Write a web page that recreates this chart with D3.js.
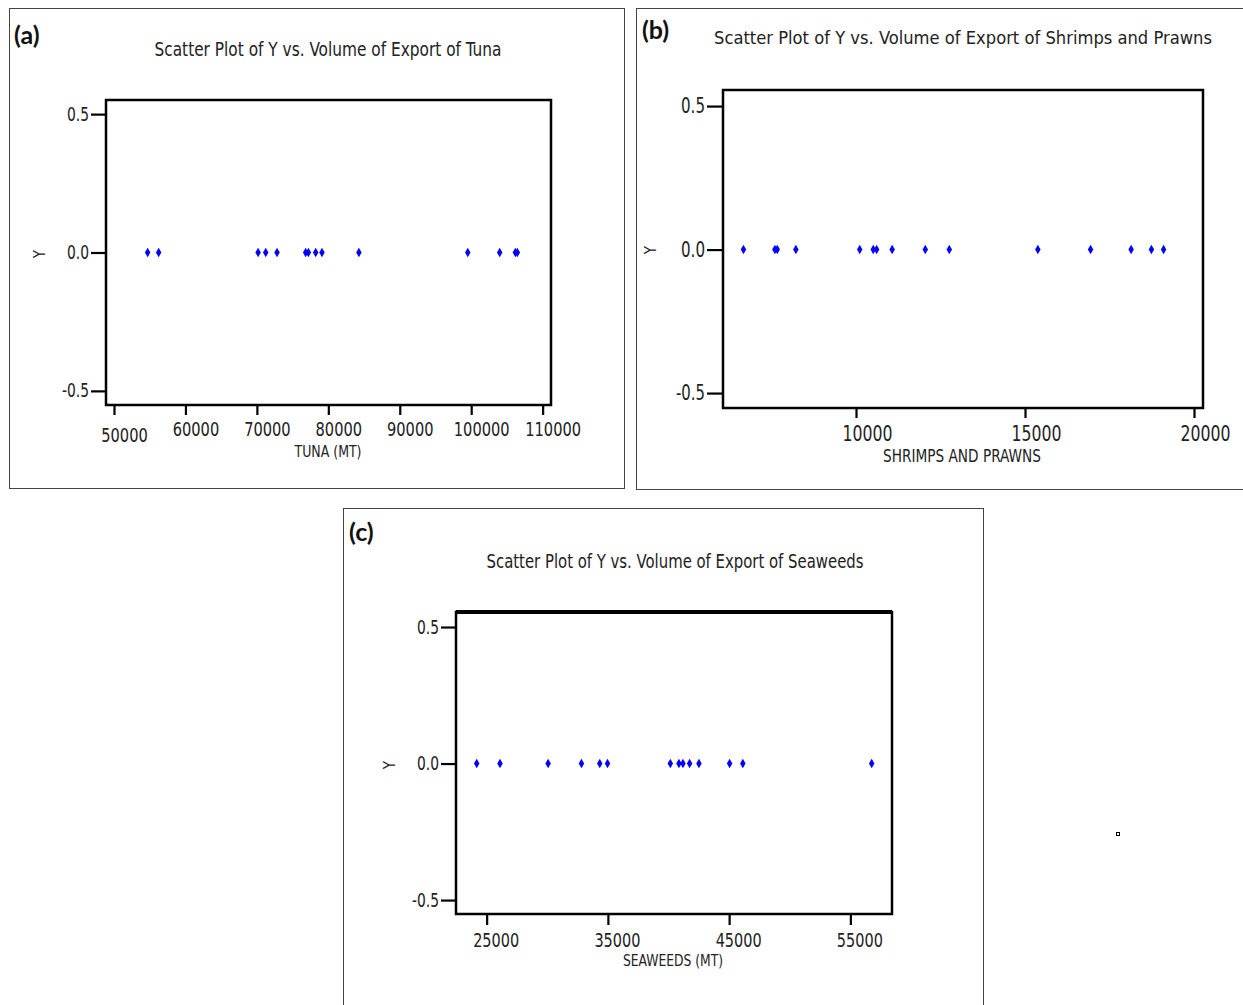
<!DOCTYPE html>
<html><head><meta charset="utf-8">
<script src="https://cdn.jsdelivr.net/npm/d3@7"></script>
<style>body{margin:0;background:#fff} svg{display:block}</style>
</head><body><svg id="c" width="1243" height="1005"></svg>
<script>
// ---- data ----
const tunaX = [54710, 56250, 70170, 71240, 72820, 76830, 77210, 78230, 79110, 84280, 99520, 103990, 106180, 106460];
const tunaY = [0, 0, 0, 0, 0, 0, 0, 0, 0, 0, 0, 0, 0, 0];
const shrimpX = [6670, 7600, 7670, 8220, 10110, 10510, 10610, 11070, 12050, 12760, 15380, 16940, 18140, 18740, 19100];
const shrimpY = [0, 0, 0, 0, 0, 0, 0, 0, 0, 0, 0, 0, 0, 0, 0];
const seaweedX = [24180, 26100, 30070, 32820, 34330, 34970, 40150, 40860, 41190, 41740, 42510, 45040, 46130, 56760];
const seaweedY = [0, 0, 0, 0, 0, 0, 0, 0, 0, 0, 0, 0, 0, 0];
const tunaTicks = [50000, 60000, 70000, 80000, 90000, 100000, 110000];
const shrimpTicks = [10000, 15000, 20000];
const seaweedTicks = [25000, 35000, 45000, 55000];
const yTicks = [-0.5, 0.0, 0.5];
const panelLabels = ["(a)", "(b)", "(c)"];
const titles = [
  "Scatter Plot of Y vs. Volume of Export of Tuna",
  "Scatter Plot of Y vs. Volume of Export of Shrimps and Prawns",
  "Scatter Plot of Y vs. Volume of Export of Seaweeds"
];
const xTitles = ["TUNA (MT)", "SHRIMPS AND PRAWNS", "SEAWEEDS (MT)"];
const yTitle = "Y";

// ---- drawing ----
const NARROW = "'Liberation Sans Narrow','Arial Narrow','DejaVu Sans Condensed',sans-serif";
const svg = d3.select("#c");

function squeeze(sel, w) {
  sel.attr("textLength", w).attr("lengthAdjust", "spacingAndGlyphs");
}

function panel(o) {
  const g = svg.append("g");
  g.append("rect").attr("x", o.ox).attr("y", o.oy).attr("width", o.ow).attr("height", o.oh)
    .attr("fill", "none").attr("stroke", "#444").attr("stroke-width", 1);
  g.append("text").attr("x", o.lx).attr("y", o.ly).text(o.label)
    .attr("font-family", "Lato, 'Open Sans', sans-serif").attr("font-weight", "bold")
    .attr("font-size", o.lfs).attr("fill", "#111");
  g.append("text").attr("x", o.tx).attr("y", o.ty).attr("text-anchor", "middle").text(o.title)
    .attr("font-family", NARROW).attr("font-size", o.tfs).attr("fill", "#222").call(squeeze, o.tw);

  const x = d3.scaleLinear().domain(o.xDomain).range([o.left, o.right]);
  const y = d3.scaleLinear().domain(o.yDomain).range([o.bottom, o.top]);

  const xa = g.append("g").attr("transform", `translate(0,${o.bottom})`)
    .call(d3.axisBottom(x).tickValues(o.xTicks).tickSize(o.xtl).tickPadding(o.xpad).tickFormat(d3.format("d")));
  xa.select(".domain").remove();
  xa.selectAll(".tick line").attr("stroke", "#000").attr("stroke-width", 2.2);
  xa.selectAll(".tick text").attr("font-family", NARROW).attr("font-size", o.xfs).attr("fill", "#222")
    .attr("dx", o.xdx).attr("dy", (d, i) => (i === 0 && o.firstDy) ? o.firstDy : "0.71em")
    .attr("textLength", d => String(d).length * o.digitW).attr("lengthAdjust", "spacingAndGlyphs");

  const ya = g.append("g").attr("transform", `translate(${o.left},0)`)
    .call(d3.axisLeft(y).tickValues(yTicks).tickSize(o.ytl).tickPadding(2).tickFormat(d => d.toFixed(1)));
  ya.select(".domain").remove();
  ya.selectAll(".tick line").attr("stroke", "#000").attr("stroke-width", 2.2);
  ya.selectAll(".tick text").attr("font-family", NARROW).attr("font-size", o.yfs).attr("fill", "#222")
    .attr("textLength", d => d < 0 ? o.yw + 5 : o.yw).attr("lengthAdjust", "spacingAndGlyphs");

  g.append("rect").attr("x", o.left).attr("y", o.top).attr("width", o.right - o.left).attr("height", o.bottom - o.top)
    .attr("fill", "none").attr("stroke", "#000").attr("stroke-width", 2.5);
  if (o.thickTop) {
    g.append("line").attr("x1", o.left).attr("x2", o.right).attr("y1", o.top).attr("y2", o.top)
      .attr("stroke", "#000").attr("stroke-width", 4);
  }

  g.append("text").attr("x", o.xtx).attr("y", o.xty).attr("text-anchor", "middle").text(o.xTitle)
    .attr("font-family", NARROW).attr("font-size", o.xtfs).attr("fill", "#222").call(squeeze, o.xtw);
  g.append("text").attr("transform", `translate(${o.ytx},${o.yty}) rotate(-90)`).attr("text-anchor", "middle")
    .text(yTitle).attr("font-family", NARROW).attr("font-size", 15).attr("fill", "#222");

  const sym = d3.symbol().type(d3.symbolDiamond).size(26);
  g.append("g").selectAll("path").data(o.xs.map((v, i) => [v, o.ys[i]])).join("path")
    .attr("d", sym).attr("fill", "#0000ff")
    .attr("transform", d => `translate(${x(d[0])},${y(d[1])})`);
}

panel({
  ox: 9.5, oy: 8.5, ow: 615, oh: 480,
  label: panelLabels[0], lx: 14, ly: 44, lfs: 25,
  title: titles[0], tx: 328, ty: 56, tfs: 19, tw: 347,
  left: 106, right: 551, top: 100, bottom: 405,
  xDomain: [48880, 111170], yDomain: [-0.551, 0.551],
  xTicks: tunaTicks, xtl: 10, xpad: 8, xfs: 19, xdx: 10, firstDy: "1.0em", digitW: 9.3,
  ytl: 15, yfs: 19, yw: 22,
  xTitle: xTitles[0], xtx: 328, xty: 457, xtfs: 16, xtw: 67,
  ytx: 45, yty: 254,
  xs: tunaX, ys: tunaY
});

panel({
  ox: 636.5, oy: 8.5, ow: 620, oh: 481,
  label: panelLabels[1], lx: 642, ly: 39, lfs: 25,
  title: titles[1], tx: 963, ty: 44, tfs: 18, tw: 498,
  left: 723, right: 1203, top: 90, bottom: 408,
  xDomain: [6065, 20266], yDomain: [-0.552, 0.556],
  xTicks: shrimpTicks, xtl: 10, xpad: 8, xfs: 21, xdx: 11, firstDy: null, digitW: 10,
  ytl: 16, yfs: 21, yw: 24,
  xTitle: xTitles[1], xtx: 962, xty: 462, xtfs: 17, xtw: 158,
  ytx: 656, yty: 250,
  xs: shrimpX, ys: shrimpY
});

panel({
  ox: 343.5, oy: 508.5, ow: 640, oh: 510,
  label: panelLabels[2], lx: 349, ly: 541, lfs: 25,
  title: titles[2], tx: 675, ty: 568, tfs: 19, tw: 377,
  left: 456, right: 892, top: 612, bottom: 914, thickTop: true,
  xDomain: [22472, 58434], yDomain: [-0.551, 0.555],
  xTicks: seaweedTicks, xtl: 11, xpad: 8, xfs: 20, xdx: 9, firstDy: null, digitW: 9.2,
  ytl: 15, yfs: 19, yw: 22,
  xTitle: xTitles[2], xtx: 673, xty: 966, xtfs: 16, xtw: 100,
  ytx: 395, yty: 765,
  xs: seaweedX, ys: seaweedY
});

// small stray mark seen at the right of the figure
svg.append("rect").attr("x", 1116.5).attr("y", 832.5).attr("width", 3).attr("height", 3)
  .attr("fill", "#fff").attr("stroke", "#000").attr("stroke-width", 1);
</script>
</body></html>
